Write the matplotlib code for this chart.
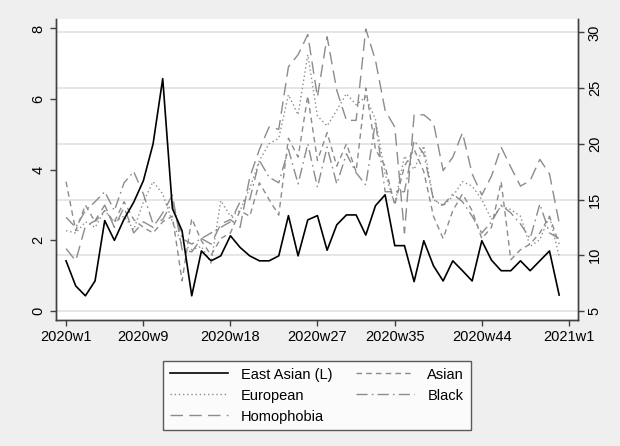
import numpy as np
import matplotlib
matplotlib.use("Agg")
import matplotlib.pyplot as plt

plt.rcParams['font.family'] = ['Liberation Sans', 'DejaVu Sans']
plt.rcParams['lines.scale_dashes'] = False

# weekly series, 2020w1 .. 2020w52
weeks = np.arange(52)
east_asian = [1.42, 0.71, 0.43, 0.85, 2.56, 2.0, 2.6, 3.08, 3.69, 4.73, 6.58, 2.9, 2.27,
              0.43, 1.7, 1.42, 1.56, 2.13, 1.8, 1.56, 1.42, 1.42, 1.56, 2.7, 1.56, 2.58,
              2.7, 1.72, 2.44, 2.72, 2.72, 2.15, 2.98, 3.29, 1.85, 1.85, 0.83, 1.99, 1.28,
              0.85, 1.42, 1.14, 0.85, 1.99, 1.44, 1.14, 1.14, 1.42, 1.14, 1.42, 1.70, 0.45]
asian = [16.6, 12.2, 14.5, 13.0, 14.0, 13.0, 14.8, 13.2, 12.5, 12.0, 13.0, 13.5, 7.7,
         13.3, 11.3, 10.0, 11.5, 12.0, 14.0, 13.5, 16.5, 15.0, 13.6, 20.5, 18.8, 24.3,
         18.5, 21.0, 18.0, 20.0, 17.5, 25.0, 19.5, 18.0, 14.5, 18.0, 19.5, 17.5, 13.5,
         11.5, 14.0, 15.5, 14.0, 11.5, 12.5, 16.6, 9.6, 10.5, 11.0, 12.0, 13.5, 11.0]
european = [12.2, 12.0, 13.0, 12.5, 14.0, 13.0, 13.5, 12.3, 14.8, 16.6, 15.5, 13.0, 11.0,
            10.5, 10.8, 9.3, 14.9, 13.5, 14.0, 16.0, 18.5, 20.0, 20.5, 24.4, 22.6, 28.0,
            22.5, 21.6, 23.0, 24.5, 23.5, 24.2, 22.2, 17.3, 14.6, 18.9, 17.7, 19.8, 15.0,
            14.4, 15.3, 16.6, 16.2, 15.0, 13.2, 14.4, 14.1, 13.5, 10.8, 11.4, 13.5, 9.9]
black = [13.4, 12.5, 14.0, 14.8, 15.7, 14.0, 16.5, 17.5, 15.5, 12.8, 13.2, 14.8, 11.5,
         11.0, 11.5, 12.0, 12.5, 13.0, 14.8, 15.0, 18.5, 17.0, 16.5, 19.5, 16.4, 20.0,
         16.1, 19.7, 16.4, 19.1, 17.4, 16.3, 22.0, 15.7, 15.7, 15.7, 20.3, 19.1, 15.0,
         14.5, 15.5, 14.8, 13.5, 12.0, 13.0, 14.5, 13.8, 12.8, 11.5, 14.6, 12.0, 11.5]
homophobia = [10.6, 9.5, 12.6, 13.1, 14.5, 12.5, 14.3, 12.0, 13.0, 12.5, 13.8, 15.4, 10.5,
              10.3, 11.5, 11.0, 12.8, 13.2, 12.5, 17.0, 19.5, 21.5, 21.3, 26.9, 28.0, 29.8,
              24.2, 29.6, 24.8, 22.1, 22.1, 30.3, 27.5, 23.0, 21.5, 12.0, 22.6, 22.6, 21.9,
              17.6, 18.8, 21.0, 17.3, 15.4, 17.1, 19.7, 17.9, 16.2, 16.7, 18.6, 17.3, 12.9]

xtick_pos = [0, 8, 17, 26, 34, 43, 52]
xtick_labels = ['2020w1', '2020w9', '2020w18', '2020w27', '2020w35', '2020w44', '2021w1']

bg = '#efefef'
gray = '#8c8c8c'
axcol = '#404040'

fig = plt.figure(figsize=(6.2, 4.46), dpi=100, facecolor=bg)
ax2 = fig.add_axes([0.0903, 0.2825, 0.8412, 0.675])
ax1 = ax2.twinx()
ax1.yaxis.tick_left()
ax2.yaxis.tick_right()
ax1.set_zorder(3)
ax1.patch.set_visible(False)
ax2.set_facecolor('white')

# gridlines on the right scale
ax2.grid(axis='y', color='#e6e6e6', linewidth=1.4)
ax2.set_axisbelow(True)

h_asian, = ax2.plot(weeks, asian, color=gray, lw=1.0, ls=(0, (4, 3)), label='Asian')
h_eur, = ax2.plot(weeks, european, color=gray, lw=1.0, ls=(0, (1, 2)), label='European')
h_black, = ax2.plot(weeks, black, color=gray, lw=1.0, ls=(0, (8, 3, 1.2, 3)), label='Black')
h_homo, = ax2.plot(weeks, homophobia, color=gray, lw=1.0, ls=(0, (9, 4.5)), label='Homophobia')
h_ea, = ax1.plot(weeks, east_asian, color='black', lw=1.2, label='East Asian (L)')

ax1.set_ylim(-0.256, 8.27)
ax2.set_ylim(4.19, 31.2)
ax1.set_xlim(-1.04, 52.9)
ax1.set_yticks([0, 2, 4, 6, 8])
ax2.set_yticks([5, 10, 15, 20, 25, 30])
ax2.set_xticks(xtick_pos)
ax2.set_xticklabels(xtick_labels)

for ax in (ax1, ax2):
    ax.spines['top'].set_visible(False)
    for s in ('left', 'right', 'bottom'):
        ax.spines[s].set_color(axcol)
        ax.spines[s].set_linewidth(1.0)
    ax.tick_params(direction='out', length=4.5, width=1.0, color=axcol,
                   labelsize=10.5, labelcolor='black', pad=3)

for lab in ax1.get_yticklabels():
    lab.set_rotation(90)
    lab.set_va('center')
for lab in ax2.get_yticklabels():
    lab.set_rotation(90)
    lab.set_va('center')

leg = fig.legend(handles=[h_ea, h_eur, h_homo, h_asian, h_black], ncol=2,
                 loc='upper center', bbox_to_anchor=(0.511, 0.207),
                 fontsize=10.5, frameon=True, fancybox=False, handlelength=4.0,
                 columnspacing=1.6, handletextpad=0.9, labelspacing=0.48,
                 borderpad=0.45)
leg.get_frame().set_edgecolor('#333333')
leg.get_frame().set_linewidth(1.0)
leg.get_frame().set_facecolor('white')

fig.savefig('out.png', dpi=100, facecolor=bg)
